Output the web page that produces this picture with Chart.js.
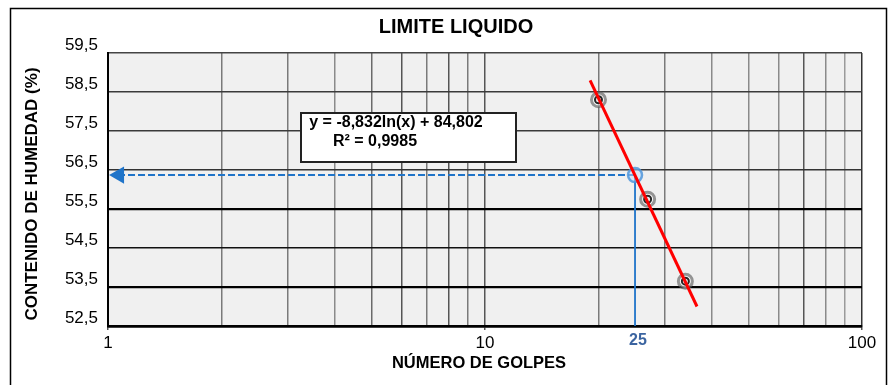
<!DOCTYPE html>
<html>
<head>
<meta charset="utf-8">
<title>Limite Liquido</title>
<script src="https://cdn.jsdelivr.net/npm/chart.js@4.4.1/dist/chart.umd.min.js"></script>
<style>
  html, body { margin: 0; padding: 0; background: #fff; }
  #wrap { width: 888px; height: 385px; }
</style>
</head>
<body>
<div id="wrap"><canvas id="llChart" width="888" height="385"></canvas></div>
<script>
// Datos del ensayo
const golpes = [20, 27, 34];
const humedad = [58.30, 55.75, 53.65];

// Linea de tendencia, extremos
const tendGolpes = [19, 36.5];
const tendHumedad = [58.8, 53.0];

// Limite liquido a 25 golpes
const llGolpes = 25;
const llHumedad = 56.37;
const flechaGolpes = [25, 1.07];
const verticalHumedad = [56.37, 52.5];

// Ejes
const xTicks = [1, 2, 3, 4, 5, 6, 7, 8, 9, 10, 20, 30, 40, 50, 60, 70, 80, 90, 100];
const xLabels = [1, 10, 100];
const yTicks = [52.5, 53.5, 54.5, 55.5, 56.5, 57.5, 58.5, 59.5];

const titulo = 'LIMITE LIQUIDO';
const tituloX = 'NÚMERO DE GOLPES';
const tituloY = 'CONTENIDO DE HUMEDAD (%)';
const ecuacion = 'y = -8,832ln(x) + 84,802';
const r2 = 'R² = 0,9985';

const FONT = '"Liberation Sans", Arial, sans-serif';

function pts(xs, ys) {
    return xs.map((x, i) => ({ x: x, y: ys[i] }));
}

// fondo, titulos, cuadro de ecuacion
const decor = {
    id: 'decor',
    beforeDraw(chart) {
        const { ctx, chartArea: a } = chart;
        ctx.save();
        ctx.fillStyle = '#fff';
        ctx.fillRect(0, 0, chart.width, chart.height);
        ctx.fillStyle = '#f0f0f0';
        ctx.fillRect(a.left, a.top, a.right - a.left, a.bottom - a.top);
        ctx.restore();
    },
    afterDraw(chart) {
        const { ctx } = chart;
        ctx.save();

        // marco exterior
        ctx.strokeStyle = '#000';
        ctx.lineWidth = 1.5;
        ctx.strokeRect(10.5, 8.5, 876, 390);

        ctx.fillStyle = '#000';
        ctx.textAlign = 'center';
        ctx.textBaseline = 'middle';

        ctx.font = 'bold 20px ' + FONT;
        ctx.fillText(titulo, 456, 27);

        ctx.font = 'bold 16.5px ' + FONT;
        ctx.fillText(tituloX, 479, 363);

        ctx.save();
        ctx.translate(32, 194);
        ctx.rotate(-Math.PI / 2);
        ctx.font = 'bold 17px ' + FONT;
        ctx.fillText(tituloY, 0, 0);
        ctx.restore();

        // cuadro de la ecuacion
        ctx.fillStyle = '#fff';
        ctx.fillRect(301, 113, 215, 49);
        ctx.lineWidth = 2;
        ctx.strokeStyle = '#222';
        ctx.strokeRect(301, 113, 215, 49);
        ctx.fillStyle = '#000';
        ctx.font = 'bold 16px ' + FONT;
        ctx.fillText(ecuacion, 396, 123);
        ctx.fillText(r2, 375, 142);

        // etiqueta 25
        const px = chart.scales.x.getPixelForValue(llGolpes);
        ctx.fillStyle = '#3b64a0';
        ctx.font = 'bold 16px ' + FONT;
        ctx.fillText(String(llGolpes), px + 3, 341);

        ctx.restore();
    }
};

const xGridColor = ['#7a7a7a', '#7a7a7a', '#7a7a7a', '#8a8a8a', '#6a6a6a', '#555', '#7a7a7a', '#555', '#7a7a7a',
    '#555', '#7a7a7a', '#7a7a7a', '#8a8a8a', '#8a8a8a', '#8a8a8a', '#555', '#8a8a8a', '#9a9a9a', '#333'];
const yGridColor = ['#000', '#000', '#111', '#000', '#333', '#3a3a3a', '#3a3a3a', '#444'];
const yGridWidth = [2.5, 2.2, 1.5, 2.2, 1.5, 1.4, 1.4, 1.4];

new Chart(document.getElementById('llChart'), {
    type: 'scatter',
    data: {
        datasets: [
            {
                label: 'Tendencia',
                data: pts(tendGolpes, tendHumedad),
                showLine: true,
                borderColor: '#ff0000',
                borderWidth: 3,
                pointRadius: 0,
                order: 0
            },
            {
                label: 'Ensayo (centro)',
                data: pts(golpes, humedad),
                pointRadius: 3.5,
                pointBorderWidth: 2,
                pointBorderColor: '#262626',
                pointBackgroundColor: '#e8e8e8',
                order: 1
            },
            {
                label: 'Ensayo',
                data: pts(golpes, humedad),
                pointRadius: 7,
                pointBorderWidth: 3,
                pointBorderColor: 'rgba(95,95,95,0.65)',
                pointBackgroundColor: 'rgba(255,255,255,0.7)',
                order: 2
            },
            {
                label: 'LL',
                data: pts([llGolpes], [llHumedad]),
                pointRadius: 7,
                pointBorderWidth: 2.5,
                pointBorderColor: 'rgba(80,150,220,0.85)',
                pointBackgroundColor: 'rgba(200,225,250,0.5)',
                order: 3
            },
            {
                label: 'Flecha',
                data: pts(flechaGolpes, [llHumedad, llHumedad]),
                showLine: true,
                borderColor: '#1f74c9',
                borderWidth: 2,
                borderDash: [7, 3],
                pointStyle: 'triangle',
                pointRotation: -90,
                pointRadius: [0, 10],
                pointBorderWidth: 0,
                pointBackgroundColor: '#1f74c9',
                clip: false,
                order: 4
            },
            {
                label: 'Vertical',
                data: pts([llGolpes, llGolpes], verticalHumedad),
                showLine: true,
                borderColor: '#1f74c9',
                borderWidth: 1.8,
                pointRadius: 0,
                order: 5
            }
        ]
    },
    options: {
        responsive: false,
        animation: false,
        devicePixelRatio: 1,
        layout: { padding: { top: 53, right: 26, left: 0, bottom: 0 } },
        plugins: {
            legend: { display: false },
            tooltip: { enabled: false },
            title: { display: false }
        },
        scales: {
            x: {
                type: 'logarithmic',
                min: 1,
                max: 100,
                afterBuildTicks: (scale) => { scale.ticks = xTicks.map(v => ({ value: v })); },
                afterFit: (scale) => { scale.height = 59; },
                border: { display: true, color: '#000', width: 2.5 },
                grid: {
                    color: (c) => xGridColor[c.index] || '#888',
                    lineWidth: 1.5,
                    tickLength: 4,
                    tickColor: (c) => xLabels.includes(c.tick && c.tick.value) ? '#555' : 'rgba(0,0,0,0)'
                },
                ticks: {
                    autoSkip: false,
                    maxRotation: 0,
                    padding: 3,
                    color: '#000',
                    font: { family: FONT, size: 17 },
                    callback: (v) => xLabels.includes(v) ? String(v) : ''
                }
            },
            y: {
                type: 'linear',
                min: 52.5,
                max: 59.5,
                afterBuildTicks: (scale) => { scale.ticks = yTicks.map(v => ({ value: v })); },
                afterFit: (scale) => { scale.width = 108; },
                border: { display: true, color: '#000', width: 2 },
                grid: {
                    color: (c) => yGridColor[c.index] || '#444',
                    lineWidth: (c) => yGridWidth[c.index] || 1.4,
                    drawTicks: false
                },
                ticks: {
                    padding: 10,
                    labelOffset: -8,
                    color: '#000',
                    font: { family: FONT, size: 17 },
                    callback: (v) => Number(v).toFixed(1).replace('.', ',')
                }
            }
        }
    },
    plugins: [decor]
});
</script>
</body>
</html>
